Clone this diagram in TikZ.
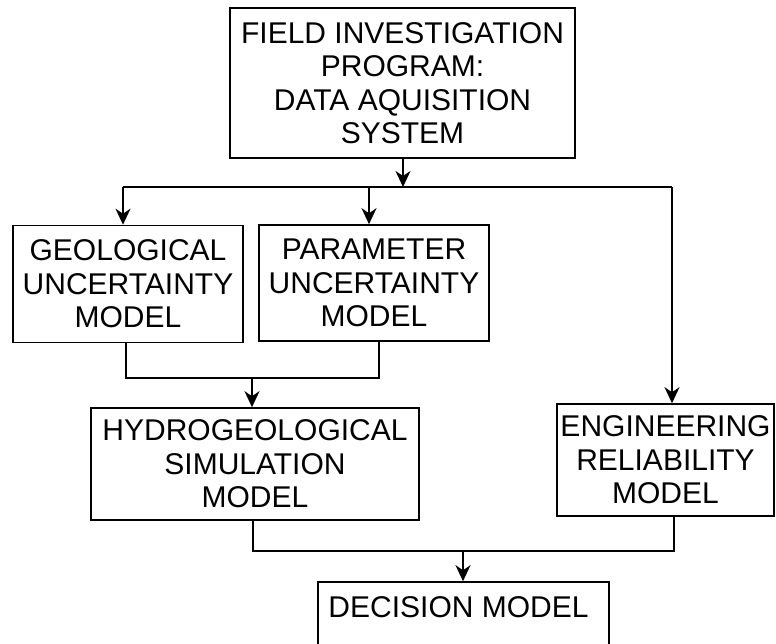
\documentclass[tikz,border=0pt]{standalone}
\usepackage{fontspec}
\setmainfont{Liberation Sans}
\usetikzlibrary{arrows.meta}

\tikzset{
  boxfont/.style={font=\fontsize{30}{33.5}\selectfont},
  block/.style={draw, line width=1.6pt, rectangle, inner sep=0pt, align=center, boxfont},
  link/.style={draw, line width=1.6pt},
  arr/.style={link, -{Stealth[length=16pt, width=15pt, inset=5pt]}}
}

\begin{document}
\begin{tikzpicture}[x=1pt, y=-1pt]
  % page frame
  \clip (0,0) rectangle (776,644);
  \fill[white] (0,0) rectangle (776,644);

  % boxes
  \node[block, minimum width=345pt, minimum height=150pt] (field) at (402.5,83)
    {FIELD INVESTIGATION\\PROGRAM:\\DATA AQUISITION\\SYSTEM};
  \node[block, minimum width=230pt, minimum height=117pt] (geo) at (128,284)
    {GEOLOGICAL\\UNCERTAINTY\\MODEL};
  \node[block, minimum width=230pt, minimum height=116pt] (par) at (374,283)
    {PARAMETER\\UNCERTAINTY\\MODEL};
  \node[block, minimum width=328pt, minimum height=112pt] (hyd) at (255,464)
    {HYDROGEOLOGICAL\\SIMULATION\\MODEL};
  \node[block, minimum width=217pt, minimum height=112pt] (eng) at (665.5,460)
    {ENGINEERING\\RELIABILITY\\MODEL};
  % the decision box runs past the lower edge of the page
  \node[block, minimum width=291pt, minimum height=110pt] (dec) at (463.5,637) {};
  \node[boxfont, inner sep=0pt] (dectext) at (458.5,607) {DECISION MODEL};

  % junction points
  \coordinate (top) at (403,187);
  \coordinate (bL) at (123,187);
  \coordinate (bM) at (369,187);
  \coordinate (bR) at (672,187);
  \coordinate (m1) at (126,378);
  \coordinate (m2) at (379,378);
  \coordinate (mA) at (252,378);
  \coordinate (n1) at (253,551);
  \coordinate (n2) at (674,551);
  \coordinate (nA) at (463,551);

  % distribution from the field programme
  \draw[arr] (top |- field.south) -- (top);
  \draw[link] (bL) -- (bR);
  \draw[arr] (bL) -- (bL |- geo.north);
  \draw[arr] (bM) -- (bM |- par.north);
  \draw[arr] (bR) -- (bR |- eng.north);

  % uncertainty models into simulation
  \draw[link] (m1 |- geo.south) -- (m1) -- (m2) -- (m2 |- par.south);
  \draw[arr] (mA) -- (mA |- hyd.north);

  % simulation and reliability into decision
  \draw[link] (n1 |- hyd.south) -- (n1) -- (n2) -- (n2 |- eng.south);
  \draw[arr] (nA) -- (nA |- dec.north);
\end{tikzpicture}
\end{document}
